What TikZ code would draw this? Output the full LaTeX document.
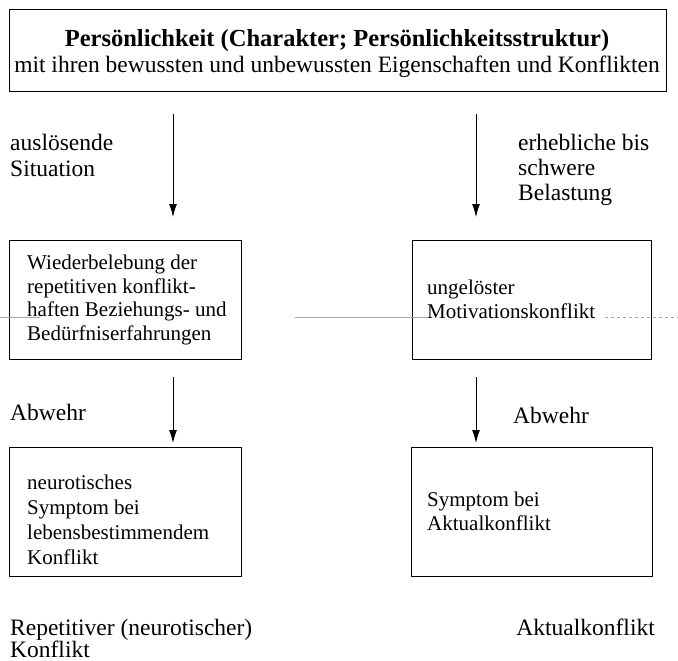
\documentclass[tikz,border=0pt]{standalone}
\usepackage{fontspec}
\setmainfont{Liberation Serif}
\usetikzlibrary{arrows.meta}
\begin{document}
\begin{tikzpicture}[x=1pt,y=-1pt,
  box/.style={draw, line width=1pt, inner sep=0pt},
  boxtxt/.style={anchor=base west, align=left, inner sep=0pt, font=\fontsize{21}{23.5}\selectfont},
  lbl/.style={anchor=base west, align=left, inner sep=0pt, font=\fontsize{23.5}{26}\selectfont},
  arr/.style={line width=1pt, -{Latex[length=13pt,width=8pt]}},
  artifact/.style={draw=gray!70, line width=0.7pt}]
\useasboundingbox (0,0) rectangle (678,661);
% boxes
\node[box, minimum width=657pt, minimum height=82pt] (top) at (337.5,51) {};
\node[box, minimum width=232pt, minimum height=119pt] (L2) at (125,299.5) {};
\node[box, minimum width=239pt, minimum height=119pt] (R2) at (531.5,299.5) {};
\node[box, minimum width=232pt, minimum height=129pt] (L3) at (125,511.5) {};
\node[box, minimum width=241pt, minimum height=129pt] (R3) at (531.5,511.5) {};
% top box text
\node[anchor=base, inner sep=0pt, font=\fontsize{24.5}{26}\selectfont\bfseries] (title) at (337,47) {Persönlichkeit (Charakter; Persönlichkeitsstruktur)};
\node[anchor=base, inner sep=0pt, font=\fontsize{23.5}{26}\selectfont] (subtitle) at (337,73) {mit ihren bewussten und unbewussten Eigenschaften und Konflikten};
% box texts (base anchor = baseline of last line)
\node[boxtxt] (L2t) at (27,340) {Wiederbelebung der\\repetitiven konflikt-\\haften Beziehungs- und\\Bedürfniserfahrungen};
\node[boxtxt] (R2t) at (427,318) {ungelöster\\Motivationskonflikt};
\node[boxtxt, font=\fontsize{21}{25}\selectfont] (L3t) at (27,564) {neurotisches\\Symptom bei\\lebensbestimmendem\\Konflikt};
\node[boxtxt] (R3t) at (427,530) {Symptom bei\\Aktualkonflikt};
% labels
\node[lbl] (sit) at (10,176) {auslösende\\Situation};
\node[lbl, font=\fontsize{23.5}{25}\selectfont] (bel) at (518,200) {erhebliche bis\\schwere\\Belastung};
\node[lbl] (abL) at (10,420) {Abwehr};
\node[lbl] (abR) at (513,423) {Abwehr};
\node[lbl, font=\fontsize{23.5}{22}\selectfont] (rep) at (10,657) {Repetitiver (neurotischer)\\Konflikt};
\node[lbl, anchor=base east] (akt) at (655,635) {Aktualkonflikt};
% arrows
\coordinate (a1s) at (173,114); \coordinate (a1e) at (173,217);
\coordinate (a2s) at (476,114); \coordinate (a2e) at (476,217);
\coordinate (a3s) at (173,377); \coordinate (a3e) at (173,443);
\coordinate (a4s) at (476,377); \coordinate (a4e) at (476,443);
\draw[arr] (a1s) -- (a1e);
\draw[arr] (a2s) -- (a2e);
\draw[arr] (a3s) -- (a3e);
\draw[arr] (a4s) -- (a4e);
% faint scan line
\coordinate (s1) at (0,317); \coordinate (s2) at (40,317);
\coordinate (s3) at (295,317); \coordinate (s4) at (428,317);
\coordinate (s5) at (605,317); \coordinate (s6) at (678,317);
\draw[artifact] (s1) -- (s2);
\draw[artifact] (s3) -- (s4);
\draw[artifact, dashed] (s5) -- (s6);
\end{tikzpicture}
\end{document}
